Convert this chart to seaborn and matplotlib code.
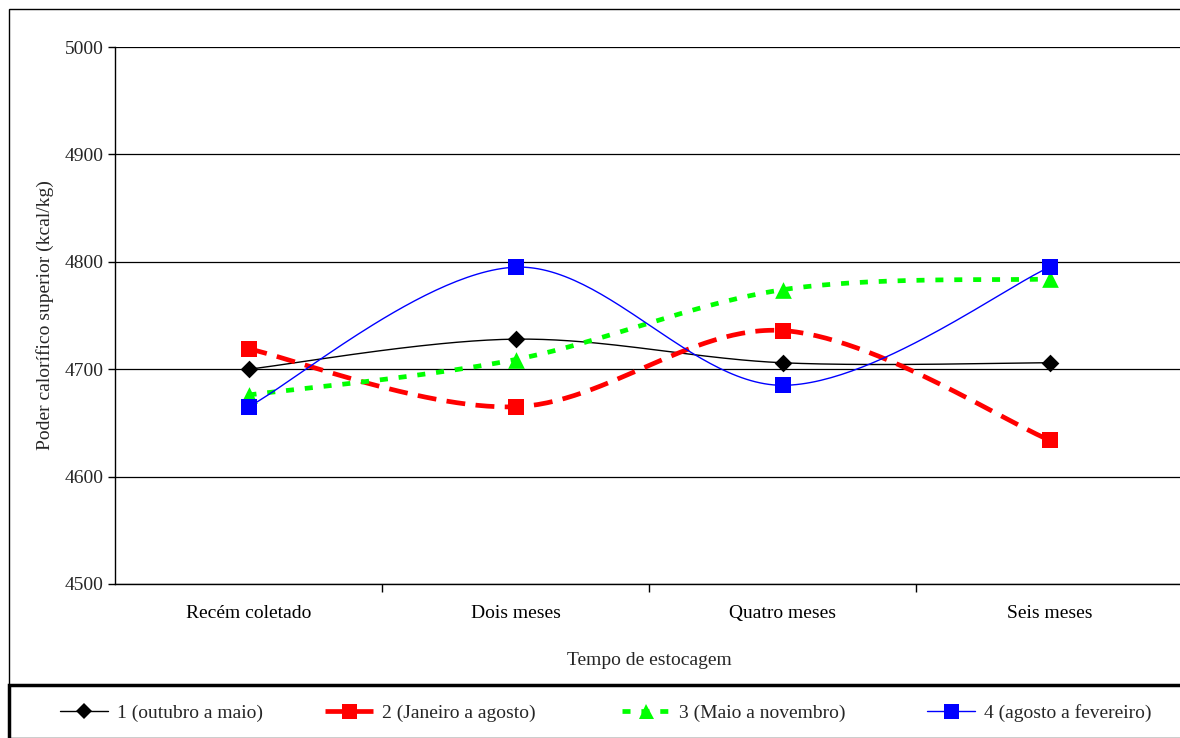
import numpy as np
import pandas as pd
import matplotlib
matplotlib.use("Agg")
import matplotlib.pyplot as plt
import seaborn as sns
from matplotlib.lines import Line2D
from matplotlib.patches import Rectangle

categories = ["Recém coletado", "Dois meses", "Quatro meses", "Seis meses"]
s1 = [4700, 4728, 4706, 4706]
s2 = [4719, 4665, 4736, 4634]
s3 = [4676, 4709, 4774, 4784]
s4 = [4665, 4795, 4685, 4795]
series_names = ["1 (outubro a maio)", "2 (Janeiro a agosto)", "3 (Maio a novembro)", "4 (agosto a fevereiro)"]
yticks = [4500, 4600, 4700, 4800, 4900, 5000]

sns.set_theme(style="white")
plt.rcParams['font.family'] = ['Liberation Serif', 'DejaVu Serif']

FS = 14


def smooth(xs, ys, n=60):
    xs = np.asarray(xs, float)
    ys = np.asarray(ys, float)
    P = np.column_stack([xs, ys])
    out = []
    for i in range(len(P) - 1):
        p0 = P[i - 1] if i > 0 else P[i]
        p1 = P[i]
        p2 = P[i + 1]
        p3 = P[i + 2] if i + 2 < len(P) else P[i + 1]
        c1 = p1 + (p2 - p0) / 6.0
        c2 = p2 - (p3 - p1) / 6.0
        t = np.linspace(0, 1, n)[:, None]
        seg = (1 - t) ** 3 * p1 + 3 * (1 - t) ** 2 * t * c1 + 3 * (1 - t) * t ** 2 * c2 + t ** 3 * p2
        if i > 0:
            seg = seg[1:]
        out.append(seg)
    out = np.vstack(out)
    return out[:, 0], out[:, 1]


fig = plt.figure(figsize=(11.8, 7.38), dpi=100)
ax = fig.add_axes([115 / 1180, 1 - 584 / 738, (1183 - 115) / 1180, (584 - 47) / 738])

styles = [
    dict(color="black", lw=1.0, dashes=None, marker="D", ms=9),
    dict(color="#ff0000", lw=3.4, dashes=(4, 2.2), marker="s", ms=12),
    dict(color="#00ff00", lw=3.4, dashes=(1.7, 2.3), marker="^", ms=12),
    dict(color="#0000ff", lw=1.0, dashes=None, marker="s", ms=12),
]

xpos = np.arange(len(categories))
handles = []
for vals, name, st in zip([s1, s2, s3, s4], series_names, styles):
    sx, sy = smooth(xpos, vals)
    df = pd.DataFrame({"x": sx, "y": sy})
    before = len(ax.lines)
    sns.lineplot(data=df, x="x", y="y", ax=ax, color=st["color"], lw=st["lw"], sort=False,
                 estimator=None, zorder=3)
    line = ax.lines[before]
    if st["dashes"] is not None:
        line.set_dashes(st["dashes"])
    pts = pd.DataFrame({"x": xpos, "y": vals})
    sns.scatterplot(data=pts, x="x", y="y", ax=ax, marker=st["marker"], s=st["ms"] ** 2,
                    color=st["color"], edgecolor=st["color"], linewidth=0, zorder=4)
    h = Line2D([0], [0], color=st["color"], lw=st["lw"], marker=st["marker"],
               markersize=st["ms"] * 0.9, markeredgewidth=0)
    if st["dashes"] is not None:
        h.set_dashes(st["dashes"])
    handles.append(h)

ax.set_xlim(-0.5, 3.5)
ax.set_ylim(4500, 5000)
ax.set_yticks(yticks)
ax.set_yticklabels([str(v) for v in yticks], fontsize=FS)
ax.set_xticks(xpos)
ax.set_xticklabels(categories, fontsize=FS)
ax.set_xticks([0.5, 1.5, 2.5], minor=True)
ax.tick_params(axis="x", which="major", length=0, pad=15, colors="black")
ax.tick_params(axis="x", which="minor", length=6, width=1, direction="out", bottom=True, color="black")
ax.tick_params(axis="y", which="major", length=5, width=1, direction="out", left=True, color="black",
               labelsize=FS, pad=3)
ax.yaxis.grid(True, color="black", lw=0.9)
ax.xaxis.grid(False)
for s in ["top", "right"]:
    ax.spines[s].set_visible(False)
for s in ["left", "bottom"]:
    ax.spines[s].set_color("black")
    ax.spines[s].set_linewidth(1.0)
ax.set_xlabel("Tempo de estocagem", fontsize=FS, labelpad=22)
ax.set_ylabel("Poder calorífico superior (kcal/kg)", fontsize=FS, labelpad=8)

# outer border
fig.patches.append(Rectangle((9 / 1180, 0), 1.2, 1 - 9 / 738, transform=fig.transFigure,
                             fill=False, edgecolor="black", lw=1.0))

# legend entries placed individually
leg_x = [60, 325, 622, 927]
for h, name, lx in zip(handles, series_names, leg_x):
    lg = fig.legend(handles=[h], labels=[name], loc="center left",
                    bbox_to_anchor=(lx / 1180, 1 - 713 / 738), fontsize=FS, frameon=False,
                    handlelength=2.45, handletextpad=0.5, borderpad=0, borderaxespad=0)
fig.patches.append(Rectangle((9 / 1180, -0.05), 1.2, 0.05 + (738 - 685) / 738, transform=fig.transFigure,
                             fill=False, edgecolor="black", lw=2.5))

fig.savefig("out.png", dpi=100)
